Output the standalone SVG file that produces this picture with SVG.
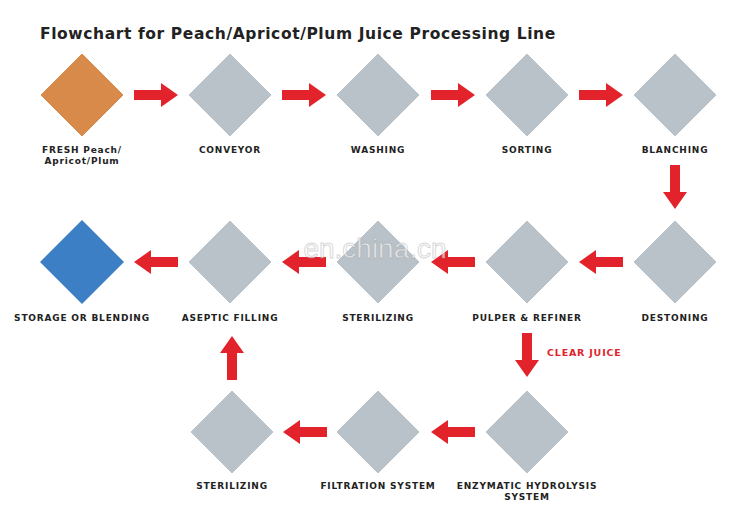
<svg xmlns="http://www.w3.org/2000/svg" xmlns:xlink="http://www.w3.org/1999/xlink" width="750" height="512" viewBox="0 0 750 512">
<style>
.t{font-family:"DejaVu Sans",sans-serif;font-weight:bold;font-size:15.5px;fill:#222;letter-spacing:0.6px}
.l{font-family:"DejaVu Sans",sans-serif;font-weight:bold;font-size:9px;fill:#222;text-anchor:middle;letter-spacing:0.8px}
.r{font-family:"DejaVu Sans",sans-serif;font-weight:bold;font-size:9.5px;fill:#e0242c;letter-spacing:0.8px}
.d{fill:#b9c2c8;stroke:#fff;stroke-width:1}
.a{fill:#e3232b}
</style>
<defs>
<polygon id="d" class="d" points="0,-42 42,0 0,42 -42,0"/>
<polygon id="ar" class="a" points="-22,-5 5,-5 5,-12 22,0 5,12 5,5 -22,5"/>
</defs>
<rect width="750" height="512" fill="#fff"/>
<text class="t" x="40" y="39">Flowchart for Peach/Apricot/Plum Juice Processing Line</text>
<g id="n1"><polygon class="d" points="82,53 124,95 82,137 40,95" fill="#e9a25a" style="fill:#d88a4a"/><text class="l" x="82" y="153">FRESH Peach/</text><text class="l" x="82" y="164">Apricot/Plum</text></g>
<g id="n2"><use href="#d" x="230" y="95"/><text class="l" x="230" y="153">CONVEYOR</text></g>
<g id="n3"><use href="#d" x="378" y="95"/><text class="l" x="378" y="153">WASHING</text></g>
<g id="n4"><use href="#d" x="527" y="95"/><text class="l" x="527" y="153">SORTING</text></g>
<g id="n5"><use href="#d" x="675" y="95"/><text class="l" x="675" y="153">BLANCHING</text></g>
<g id="n6"><use href="#d" x="675" y="262"/><text class="l" x="675" y="321">DESTONING</text></g>
<g id="n7"><use href="#d" x="527" y="262"/><text class="l" x="527" y="321">PULPER &amp; REFINER</text></g>
<g id="n8"><use href="#d" x="378" y="262"/><text class="l" x="378" y="321">STERILIZING</text></g>
<g id="n9"><use href="#d" x="230" y="262"/><text class="l" x="230" y="321">ASEPTIC FILLING</text></g>
<g id="n10"><polygon points="82,220 124,262 82,304 40,262" fill="#3d7fc4"/><text class="l" x="82" y="321">STORAGE OR BLENDING</text></g>
<g id="n11"><use href="#d" x="527" y="432"/><text class="l" x="527" y="489">ENZYMATIC HYDROLYSIS</text><text class="l" x="527" y="500">SYSTEM</text></g>
<g id="n12"><use href="#d" x="378" y="432"/><text class="l" x="378" y="489">FILTRATION SYSTEM</text></g>
<g id="n13"><use href="#d" x="232" y="432"/><text class="l" x="232" y="489">STERILIZING</text></g>
<g id="connectors">
<use href="#ar" transform="translate(156,95)"/>
<use href="#ar" transform="translate(304,95)"/>
<use href="#ar" transform="translate(453,95)"/>
<use href="#ar" transform="translate(601,95)"/>
<use href="#ar" transform="translate(675,187) rotate(90)"/>
<use href="#ar" transform="translate(601,262) rotate(180)"/>
<use href="#ar" transform="translate(453,262) rotate(180)"/>
<use href="#ar" transform="translate(304,262) rotate(180)"/>
<use href="#ar" transform="translate(156,262) rotate(180)"/>
<use href="#ar" transform="translate(527,355) rotate(90)"/>
<text class="r" x="547" y="356">CLEAR JUICE</text>
<use href="#ar" transform="translate(453,432) rotate(180)"/>
<use href="#ar" transform="translate(305,432) rotate(180)"/>
<use href="#ar" transform="translate(232,358) rotate(-90)"/>
</g>
<text x="375" y="258" text-anchor="middle" font-family="Liberation Sans,sans-serif" font-size="28" fill="#fff" fill-opacity="0.6" stroke="#999" stroke-opacity="0.4">en.china.cn</text>
</svg>
